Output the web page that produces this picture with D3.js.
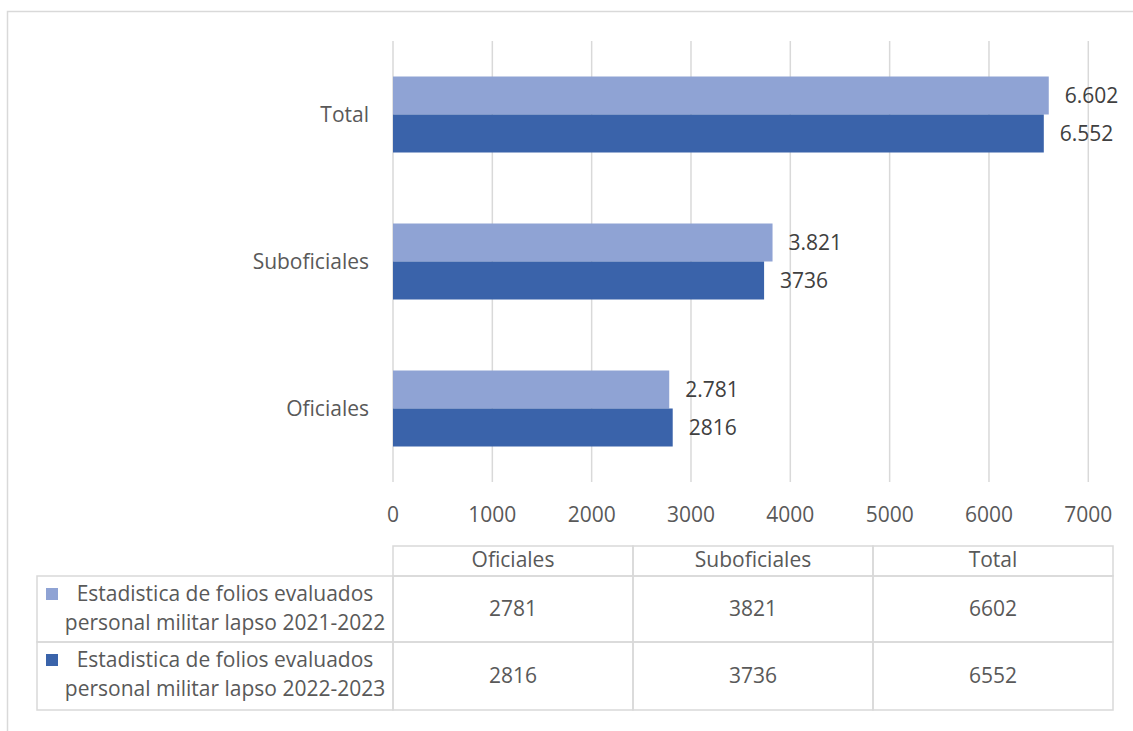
<!DOCTYPE html>
<html>
<head>
<meta charset="utf-8">
<script src="https://cdn.jsdelivr.net/npm/d3@7"></script>
<style>
  body { margin: 0; background: #fff; }
  text { font-family: "Open Sans", Lato, sans-serif; }
</style>
</head>
<body>
<div id="chart"></div>
<script>
// chart data
var categories = ["Total", "Suboficiales", "Oficiales"];
var tableCols = ["Oficiales", "Suboficiales", "Total"];
var seriesNames = [
  ["Estadistica de folios evaluados", "personal militar lapso 2021-2022"],
  ["Estadistica de folios evaluados", "personal militar lapso 2022-2023"]
];
var values2122 = [6602, 3821, 2781];   // Total, Suboficiales, Oficiales
var values2223 = [6552, 3736, 2816];
var labels2122 = ["6.602", "3.821", "2.781"];
var labels2223 = ["6.552", "3736", "2816"];
var xTicks = [0, 1000, 2000, 3000, 4000, 5000, 6000, 7000];
var colors = ["#8FA3D4", "#3A63AA"];

var W = 1133, H = 731, fs = 21;
var svg = d3.select("#chart").append("svg")
  .attr("width", W).attr("height", H);

// outer chart border (runs off the picture at right and bottom)
svg.append("rect")
  .attr("x", 7.5).attr("y", 11.5)
  .attr("width", W + 20).attr("height", H + 20)
  .attr("fill", "none").attr("stroke", "#D9D9D9").attr("stroke-width", 1.5);

var plotTop = 41, plotBottom = 482;

var x = d3.scaleLinear().domain([0, 7000]).range([393, 1088.3]);

var y = d3.scaleBand()
  .domain(categories)
  .range([plotTop, plotBottom])
  .paddingInner(0.483)
  .paddingOuter(0.2415);

var ySub = d3.scaleBand()
  .domain([0, 1])
  .range([0, y.bandwidth()]);

// gridlines
svg.append("g").selectAll("line")
  .data(xTicks)
  .enter().append("line")
    .attr("x1", function(d) { return x(d); })
    .attr("x2", function(d) { return x(d); })
    .attr("y1", plotTop).attr("y2", plotBottom)
    .attr("stroke", "#D9D9D9").attr("stroke-width", 1.5);

// x tick labels
svg.append("g").selectAll("text")
  .data(xTicks)
  .enter().append("text")
    .attr("x", function(d) { return x(d); })
    .attr("y", 515)
    .attr("dy", "0.35em")
    .attr("text-anchor", "middle")
    .attr("font-size", fs)
    .attr("fill", "#595959")
    .text(function(d) { return d; });

// category labels
svg.append("g").selectAll("text")
  .data(categories)
  .enter().append("text")
    .attr("x", 369)
    .attr("y", function(d) { return y(d) + y.bandwidth() / 2; })
    .attr("dy", "0.35em")
    .attr("text-anchor", "end")
    .attr("font-size", fs)
    .attr("fill", "#595959")
    .text(function(d) { return d; });

// bars
var series = [
  { values: values2122, labels: labels2122 },
  { values: values2223, labels: labels2223 }
];

series.forEach(function(s, si) {
  var g = svg.append("g");
  g.selectAll("rect")
    .data(categories)
    .enter().append("rect")
      .attr("x", x(0))
      .attr("y", function(d) { return y(d) + ySub(si); })
      .attr("width", function(d, i) { return x(s.values[i]) - x(0); })
      .attr("height", ySub.bandwidth())
      .attr("fill", colors[si]);
  g.selectAll("text")
    .data(categories)
    .enter().append("text")
      .attr("x", function(d, i) { return x(s.values[i]) + 16; })
      .attr("y", function(d) { return y(d) + ySub(si) + ySub.bandwidth() / 2; })
      .attr("dy", "0.35em")
      .attr("font-size", fs)
      .attr("fill", "#404040")
      .text(function(d, i) { return s.labels[i]; });
});

// data table
var colX = d3.scaleBand().domain(tableCols).range([393, 1113]);
var rowTop = [546, 576, 642], rowBottom = 710, legendLeft = 37;
var tbl = svg.append("g").attr("stroke", "#D9D9D9").attr("stroke-width", 1.5).attr("fill", "none");

// header cells
tableCols.forEach(function(c) {
  tbl.append("rect").attr("x", colX(c)).attr("y", rowTop[0])
    .attr("width", colX.bandwidth()).attr("height", rowTop[1] - rowTop[0]);
});
// data rows
[0, 1].forEach(function(r) {
  var y0 = rowTop[r + 1], y1 = r === 0 ? rowTop[2] : rowBottom;
  tbl.append("rect").attr("x", legendLeft).attr("y", y0)
    .attr("width", 393 - legendLeft).attr("height", y1 - y0);
  tableCols.forEach(function(c) {
    tbl.append("rect").attr("x", colX(c)).attr("y", y0)
      .attr("width", colX.bandwidth()).attr("height", y1 - y0);
  });
});

var txt = svg.append("g").attr("font-size", fs).attr("fill", "#595959");
tableCols.forEach(function(c) {
  txt.append("text").attr("x", colX(c) + colX.bandwidth() / 2).attr("y", 560)
    .attr("dy", "0.35em").attr("text-anchor", "middle").text(c);
});

// table values in column order Oficiales, Suboficiales, Total
[values2122, values2223].forEach(function(vals, r) {
  var y0 = rowTop[r + 1], y1 = r === 0 ? rowTop[2] : rowBottom;
  var cy = (y0 + y1) / 2;
  tableCols.forEach(function(c) {
    var v = vals[categories.indexOf(c)];
    txt.append("text").attr("x", colX(c) + colX.bandwidth() / 2).attr("y", cy)
      .attr("dy", "0.35em").attr("text-anchor", "middle").text(v);
  });
  svg.append("rect").attr("x", 46).attr("y", y0 + 12)
    .attr("width", 12).attr("height", 12).attr("fill", colors[r]);
  seriesNames[r].forEach(function(line, li) {
    txt.append("text").attr("x", 225).attr("y", y0 + 18 + li * 29)
      .attr("dy", "0.35em").attr("text-anchor", "middle").text(line);
  });
});
</script>
</body>
</html>
